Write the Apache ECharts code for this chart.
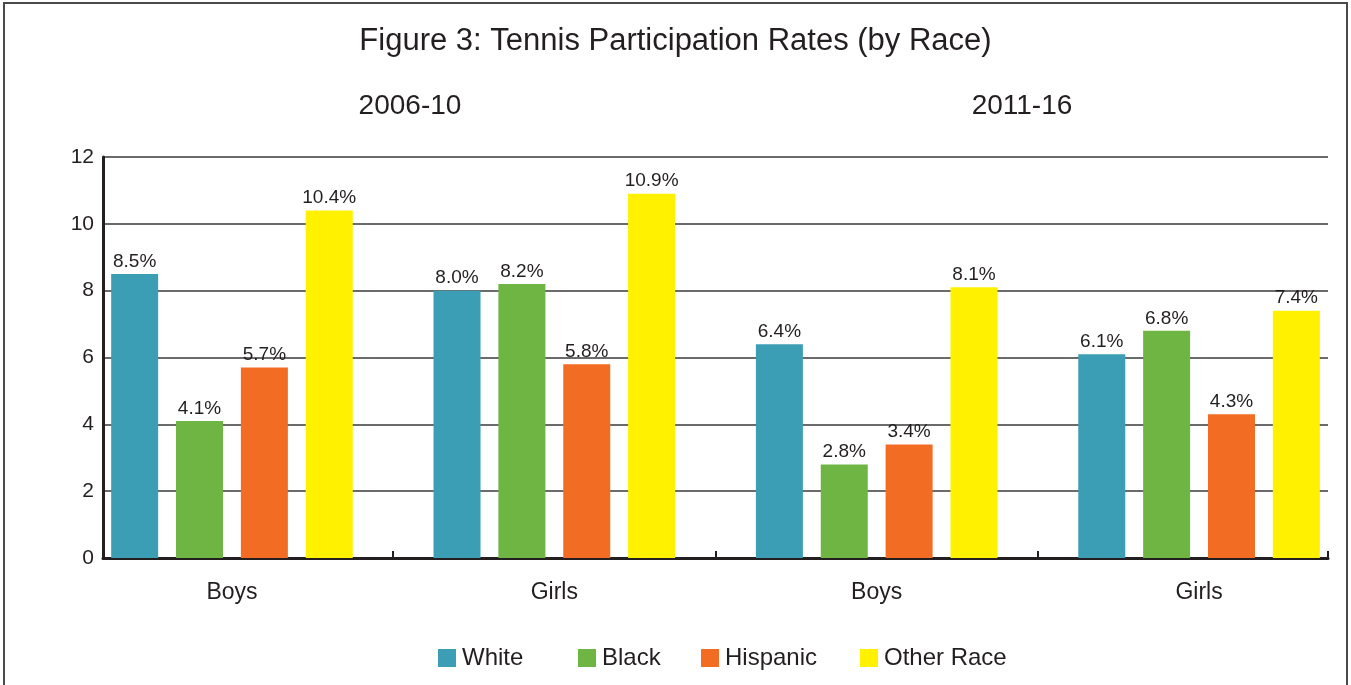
<!DOCTYPE html>
<html><head><meta charset="utf-8">
<script src="https://cdn.jsdelivr.net/npm/echarts@6/dist/echarts.min.js"></script>
<style>html,body{margin:0;padding:0;background:#fff}#c{width:1351px;height:685px}</style>
</head><body><div id="c"></div>
<script>
const titleText = 'Figure 3: Tennis Participation Rates (by Race)';
const periods = ['2006-10', '2011-16'];
const categories = ['Boys', 'Girls', 'Boys', 'Girls'];
const seriesNames = ['White', 'Black', 'Hispanic', 'Other Race'];
const white = [8.5, 8.0, 6.4, 6.1];
const black = [4.1, 8.2, 2.8, 6.8];
const hispanic = [5.7, 5.8, 3.4, 4.3];
const otherRace = [10.4, 10.9, 8.1, 7.4];
const yMin = 0, yMax = 12, yStep = 2;

const colors = ['#3B9EB5', '#6FB543', '#F26D23', '#FFF100'];
const FONT = '"Liberation Sans", Arial, sans-serif';
const INK = '#231f20';

const seriesData = [white, black, hispanic, otherRace];
// category index positions; the axis runs a little past the outer groups
const catIdx = categories.map((c, i) => i);
const xMin = -0.4, xMax = catIdx.length - 1 + 0.4;
const boundaryTicks = catIdx.slice(1).map(i => i - 0.5).concat([xMax]);
const legendLefts = [438, 578, 701, 860];

const chart = echarts.init(document.getElementById('c'), null, {renderer: 'canvas'});
const option = {
  animation: false,
  backgroundColor: '#fff',
  textStyle: {fontFamily: FONT},
  title: {
    text: titleText, left: 'center', top: 26, padding: 0,
    textStyle: {fontFamily: FONT, fontSize: 31, fontWeight: 'normal', color: INK}
  },
  graphic: [
    {type: 'rect', shape: {x: 4, y: 3, width: 1343, height: 700}, style: {fill: 'none', stroke: '#4a4a4a', lineWidth: 2}, silent: true},
    {type: 'text', x: 410, y: 106, style: {text: periods[0], fontFamily: FONT, fontSize: 28, fill: INK, align: 'center', verticalAlign: 'middle'}},
    {type: 'text', x: 1022, y: 106, style: {text: periods[1], fontFamily: FONT, fontSize: 28, fill: INK, align: 'center', verticalAlign: 'middle'}}
  ],
  legend: seriesNames.map((name, i) => ({
    data: [name], left: legendLefts[i], top: 646, padding: 0,
    icon: 'rect', itemWidth: 18, itemHeight: 18, itemGap: 6,
    textStyle: {fontFamily: FONT, fontSize: 24, color: INK, padding: [0, 0, 0, 1]}
  })),
  grid: {left: 103, width: 1225, top: 157, height: 401},
  xAxis: {
    type: 'value', min: xMin, max: xMax,
    axisLine: {show: true, onZero: false, lineStyle: {color: INK, width: 3}},
    axisTick: {show: true, inside: true, length: 7, customValues: boundaryTicks, lineStyle: {color: INK, width: 2}},
    axisLabel: {fontFamily: FONT, fontSize: 23, color: INK, margin: 23, customValues: catIdx,
      formatter: v => categories[Math.round(v)]},
    splitLine: {show: false}
  },
  yAxis: {
    type: 'value', min: yMin, max: yMax, interval: yStep,
    axisLine: {show: true, onZero: false, lineStyle: {color: INK, width: 3}},
    axisTick: {show: false},
    axisLabel: {fontFamily: FONT, fontSize: 21, color: INK, margin: 9},
    splitLine: {show: true, lineStyle: {color: '#3a3a3a', width: 1.5}}
  },
  series: seriesNames.map((name, i) => ({
    name: name, type: 'bar',
    data: seriesData[i].map((v, j) => [catIdx[j], v]),
    barWidth: 47, barGap: '38%',
    itemStyle: {color: colors[i]},
    label: {show: true, position: 'top', distance: 3, fontFamily: FONT, fontSize: 19, color: INK,
      formatter: p => p.value[1].toFixed(1) + '%'}
  }))
};
chart.setOption(option);
</script></body></html>
